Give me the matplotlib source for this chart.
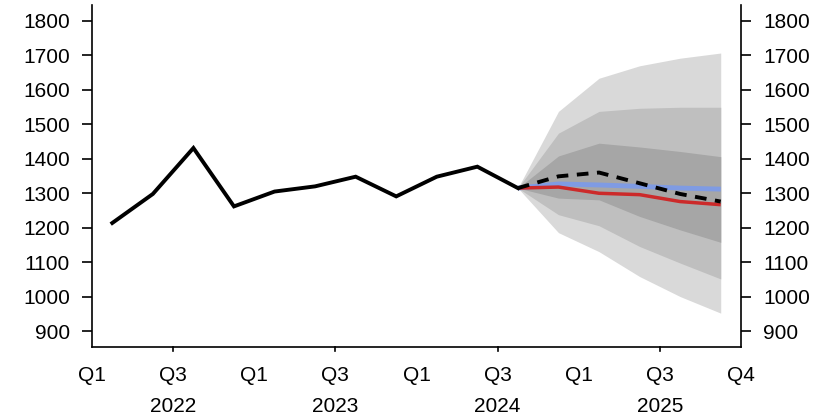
import numpy as np
import matplotlib
matplotlib.use("Agg")
import matplotlib.pyplot as plt

plt.rcParams['font.family'] = ['Liberation Sans', 'DejaVu Sans']

# Quarterly history, 2022 Q1 .. 2024 Q3
hist_quarters = ["2022Q1", "2022Q2", "2022Q3", "2022Q4", "2023Q1", "2023Q2",
                 "2023Q3", "2023Q4", "2024Q1", "2024Q2", "2024Q3"]
hist_values = [1214, 1298, 1431, 1262, 1305, 1320, 1348, 1291, 1348, 1377, 1315]

# Forecast horizon, 2024 Q3 .. 2025 Q4
fc_quarters = ["2024Q3", "2024Q4", "2025Q1", "2025Q2", "2025Q3", "2025Q4"]
fc_dashed = [1315, 1349, 1360, 1329, 1298, 1276]
fc_blue = [1315, 1327, 1324, 1320, 1315, 1312]
fc_red = [1315, 1318, 1300, 1296, 1276, 1267]

# Fan chart bands (lower, upper), outermost first
band_outer_lo = [1315, 1186, 1131, 1059, 1001, 953]
band_outer_hi = [1315, 1537, 1633, 1669, 1691, 1706]
band_mid_lo = [1315, 1238, 1206, 1146, 1098, 1052]
band_mid_hi = [1315, 1474, 1537, 1546, 1549, 1549]
band_inner_lo = [1315, 1286, 1281, 1233, 1194, 1158]
band_inner_hi = [1315, 1408, 1445, 1434, 1421, 1406]

tick_labels = ["Q1", "Q3", "Q1", "Q3", "Q1", "Q3", "Q1", "Q3", "Q4"]
years = ["2022", "2023", "2024", "2025"]
y_ticks = [900, 1000, 1100, 1200, 1300, 1400, 1500, 1600, 1700, 1800]

FS = 15


def qpos(q):
    """Mid-quarter position in quarters since 2022 Q1."""
    y, n = int(q[:4]), int(q[-1])
    return (y - 2022) * 4 + (n - 1) + 0.5


xh = [qpos(q) for q in hist_quarters]
xf = [qpos(q) for q in fc_quarters]

fig = plt.figure(figsize=(8.31, 4.17), dpi=100)
ax = fig.add_axes([92 / 831, 1 - 347 / 417, (741 - 92) / 831, (347 - 5) / 417])

ax.fill_between(xf, band_outer_lo, band_outer_hi, color="#d9d9d9", lw=0)
ax.fill_between(xf, band_mid_lo, band_mid_hi, color="#bfbfbf", lw=0)
ax.fill_between(xf, band_inner_lo, band_inner_hi, color="#a6a6a6", lw=0)

ax.plot(xf, fc_blue, color="#7f9be3", lw=3.5, solid_capstyle="butt", zorder=3)
ax.plot(xf, fc_red, color="#cc2a2a", lw=2.5, solid_capstyle="butt", zorder=4)
ax.plot(xf, fc_dashed, color="black", lw=2.8, dashes=(3, 2.2), zorder=5)
ax.plot(xh, hist_values, color="black", lw=2.8, solid_joinstyle="miter", zorder=6)

ax.set_xlim(0, 16)
ax.set_ylim(855, 1845)

ax.spines["top"].set_visible(False)
for s in ["left", "right", "bottom"]:
    ax.spines[s].set_linewidth(1.2)

ax.set_yticks(y_ticks)
ax.tick_params(axis="y", which="both", direction="out", length=7, width=1.2, pad=9,
               labelsize=FS, left=True, right=True, labelleft=True, labelright=True)

major = [0, 4, 8, 12, 16]
minor = [2, 6, 10, 14]
ax.set_xticks(sorted(major + minor))
ax.set_xticklabels(tick_labels)
ax.tick_params(axis="x", which="major", direction="out", length=0, labelsize=FS, pad=14)
ax.set_xticks(major, minor=True)
ax.tick_params(axis="x", which="minor", direction="out", length=7.5, width=1.2)
# short ticks at mid-year marks
for x in minor:
    ax.plot([x, x], [0, -0.012], transform=ax.get_xaxis_transform(), color="black",
            lw=1.2, clip_on=False)

for i, yr in enumerate(years):
    ax.text(2 + 4 * i, -0.145, yr, transform=ax.get_xaxis_transform(),
            ha="center", va="top", fontsize=FS)

fig.savefig("out.png", dpi=100)
